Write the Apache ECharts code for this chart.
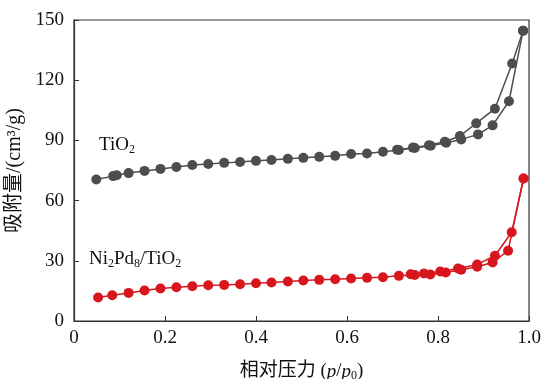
<!DOCTYPE html>
<html><head><meta charset="utf-8">
<script src="https://cdn.jsdelivr.net/npm/echarts@6/dist/echarts.min.js"></script>
<style>html,body{margin:0;padding:0;background:#fff}#c{width:543px;height:379px}</style>
</head><body><div id="c"></div>
<script>
const xTicks = [0, 0.2, 0.4, 0.6, 0.8, 1.0];
const yTicks = [0, 30, 60, 90, 120, 150];

const tio2AdsP = [0.049,0.086,0.094,0.12,0.155,0.19,0.225,0.26,0.295,0.33,0.365,0.40,0.434,0.47,0.504,0.539,0.574,0.609,0.644,0.679,0.714,0.749,0.784,0.818,0.851,0.888,0.92,0.956,0.987];
const tio2AdsV = [70.5,72.2,72.6,73.7,74.8,75.8,76.7,77.7,78.2,78.8,79.2,79.8,80.2,80.8,81.3,81.8,82.3,83.2,83.5,84.3,85.2,86.2,87.3,88.8,90.5,93,97.5,109.5,144.7];
const tio2DesP = [0.987,0.963,0.925,0.884,0.848,0.815,0.78,0.745,0.71];
const tio2DesV = [144.7,128.3,105.8,98.5,92.2,89.3,87.6,86.4,85.3];

const niAdsP = [0.053,0.084,0.12,0.155,0.19,0.225,0.26,0.295,0.33,0.365,0.40,0.434,0.47,0.504,0.539,0.574,0.609,0.644,0.679,0.714,0.749,0.783,0.817,0.851,0.886,0.92,0.954,0.988];
const niAdsV = [11.7,12.8,14,15.2,16.2,16.8,17.3,17.8,18,18.3,18.8,19.2,19.7,20.2,20.5,20.8,21.2,21.5,21.8,22.5,22.9,23.2,24.2,25.5,27,29.2,35,71];
const niDesP = [0.988,0.962,0.925,0.886,0.844,0.805,0.769,0.74];
const niDesV = [71,44.2,32.5,28.2,26.2,24.7,23.7,23.3];

const GRAY = '#4d4d4d', RED = '#d7161e';
const SERIF = '"Liberation Serif","Times New Roman",serif';
const CJK = '"Liberation Serif","Noto Sans CJK SC",serif';

function pairs(p, v){ return p.map((x,i)=>[x, v[i]]); }
function mk(name, p, v, color){
  return {type:'line', name, data: pairs(p,v), symbol:'circle', symbolSize:10,
    itemStyle:{color}, lineStyle:{color, width:1.5}, animation:false, z:3};
}

const chart = echarts.init(document.getElementById('c'), null, {renderer:'canvas'});
chart.setOption({
  animation:false,
  grid:{left:74, right:14, top:20, bottom:58, show:true, borderColor:'#333', borderWidth:1.2,
    containLabel:false, outerBoundsMode:'none'},
  xAxis:{type:'value', min:0, max:1, interval:0.2,
    axisLine:{lineStyle:{color:'#333', width:1.2}},
    axisTick:{inside:true, length:5, lineStyle:{color:'#333'}},
    splitLine:{show:false},
    axisLabel:{fontFamily:SERIF, fontSize:19, color:'#111', margin:8,
      formatter:v=> v===0 ? '0' : v.toFixed(1)},
    name:'{c|相对压力 (}{i|p}{c|/}{i|p}{s|0}{c|)}', nameLocation:'middle', nameGap:40,
    nameTextStyle:{rich:{
      c:{fontFamily:CJK, fontSize:19, color:'#111'},
      i:{fontFamily:SERIF, fontSize:19, fontStyle:'italic', color:'#111'},
      s:{fontFamily:SERIF, fontSize:12, color:'#111', padding:[9,0,0,0]}
    }}
  },
  yAxis:{type:'value', min:0, max:150, interval:30,
    axisLine:{show:true, lineStyle:{color:'#333', width:1.2}},
    axisTick:{show:true, inside:true, length:5, lineStyle:{color:'#333'}},
    splitLine:{show:false},
    axisLabel:{fontFamily:SERIF, fontSize:19, color:'#111', margin:10},
    name:'吸附量/(cm³/g)', nameLocation:'middle', nameGap:40,
    nameTextStyle:{fontFamily:CJK, fontSize:20, color:'#111'}
  },
  graphic:[
    {type:'text', left:99, top:136, style:{text:'{a|TiO}{s|2}', rich:{
      a:{fontFamily:SERIF, fontSize:19, fill:'#111'},
      s:{fontFamily:SERIF, fontSize:12, fill:'#111', padding:[9,0,0,0]}}}},
    {type:'text', left:89, top:250, style:{text:'{a|Ni}{s|2}{a|Pd}{s|8}{a|/TiO}{s|2}', rich:{
      a:{fontFamily:SERIF, fontSize:19, fill:'#111'},
      s:{fontFamily:SERIF, fontSize:12, fill:'#111', padding:[9,0,0,0]}}}}
  ],
  series:[
    mk('TiO2 ads', tio2AdsP, tio2AdsV, GRAY),
    mk('TiO2 des', tio2DesP, tio2DesV, GRAY),
    mk('Ni ads', niAdsP, niAdsV, RED),
    mk('Ni des', niDesP, niDesV, RED)
  ]
});
</script></body></html>
